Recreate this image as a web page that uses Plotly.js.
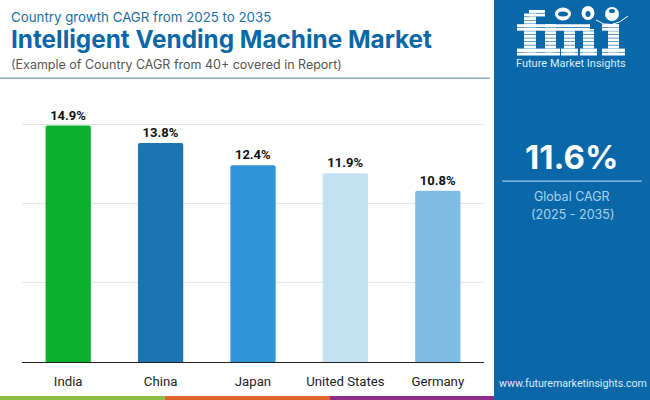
<!DOCTYPE html>
<html><head><meta charset="utf-8">
<script src="https://cdn.plot.ly/plotly-3.0.1.min.js"></script>
<style>html,body{margin:0;padding:0;background:#fff}#c{width:650px;height:400px}</style>
</head><body><div id="c"></div>
<script>
const categories = ["India","China","Japan","United States","Germany"];
const cagrValues = [14.9,13.8,12.4,11.9,10.8];
const barLabels = ["14.9%","13.8%","12.4%","11.9%","10.8%"];
const barColors = ["#0bb02f","#1c75b0","#2f96d9","#c2e1f3","#7fbce4"];
const W=650,H=400,PANEL="#0a68a8";
const px=x=>x/W, py=y=>1-y/H;
function rect(x0,y0,x1,y1,c){return {type:"rect",xref:"paper",yref:"paper",x0:px(x0),x1:px(x1),y0:py(y0),y1:py(y1),fillcolor:c,line:{width:0},layer:"below"};}
function oval(cx,cy,rx,ry,c){return {type:"circle",xref:"paper",yref:"paper",x0:px(cx-rx),x1:px(cx+rx),y0:py(cy+ry),y1:py(cy-ry),fillcolor:c,line:{width:0},layer:"below"};}
function note(x,y,t,size,color,font,anchor,bold){return {xref:"paper",yref:"paper",x:px(x),y:py(y),text:bold?"<b>"+t+"</b>":t,showarrow:false,xanchor:anchor||"left",yanchor:"middle",font:{size:size,color:color,family:font},borderpad:0,borderwidth:0};}
const shapes=[
 rect(494,0,650,400,PANEL),
 rect(0,396,165,400,"#8cbf45"),
 rect(165,396,330,400,"#e2622e"),
 rect(330,396,494,400,"#8a2e8c"),
 rect(0,77.5,490,79,"#86adc8"),
 rect(502,180.5,642,181.8,"#9cc8e8")
];
// fmi logo built from white stripes on a shared row grid
function seg(x0,x1,y0,y1){
  for(let y=10;y<56;y+=3.55){
    const a=Math.max(y,y0), b=Math.min(y+2.9,y1);
    if(b>a) shapes.push(rect(x0,a,x1,b,"#ffffff"));
  }
}
// f
seg(524,536,13,55); seg(529,545,10,17); seg(517,541,24,31); seg(517,541,48,56);
// m
seg(545,556,24,55); seg(564,575,29,55); seg(583,594,29,55); seg(541,590,24,31);
seg(541,560,48,56); seg(561,578,48,56); seg(580,597,48,56);
// i
seg(608,619,24,55); seg(602,619,24,31); seg(602,625,48,56);
// globes
shapes.push(oval(563,14,8,6.5,"#ffffff"),oval(563,14,5,2.5,PANEL));
shapes.push(oval(588,13,6.5,7,"#ffffff"),oval(588,14,2.5,3,PANEL));
shapes.push(oval(612,14,7,7,"#ffffff"),oval(612,11,3,2,PANEL));
// smile arc
shapes.push({type:"path",xref:"paper",yref:"paper",path:`M ${px(596)} ${py(20)} Q ${px(611)} ${py(31)} ${px(628)} ${py(16)}`,line:{color:"#ffffff",width:1},fillcolor:"rgba(0,0,0,0)",layer:"below"});
const annotations=[
 note(11,17,"Country growth CAGR from 2025 to 2035",13.3,"#1c6ea4","Inter"),
 note(11,39,"Intelligent Vending Machine Market",24.3,PANEL,"Inter","left",true),
 note(11,64,"(Example of Country CAGR from 40+ covered in Report)",12.5,"#555555","Inter"),
 note(571,63.5,"Future Market Insights",11,"#dcecf8","Roboto","center"),
 note(571,157,"11.6%",33,"#ffffff","Inter","center",true),
 note(572,197,"Global CAGR",12.5,"#a9d3f0","Inter","center"),
 note(572,214,"(2025 - 2035)",12.5,"#a9d3f0","Inter","center"),
 note(572.5,383,"www.futuremarketinsights.com",10.6,"#dcecf8","Roboto","center")
];
Plotly.newPlot("c",[{
  type:"bar",x:categories,y:cagrValues,text:barLabels,textposition:"outside",cliponaxis:false,
  textfont:{family:"Roboto",size:13,color:"#111111",weight:700},
  marker:{color:barColors,cornerradius:2,line:{width:0}},width:0.49,hoverinfo:"skip"
}],{
  width:W,height:H,margin:{l:0,r:0,t:0,b:0},paper_bgcolor:"#ffffff",plot_bgcolor:"#ffffff",showlegend:false,
  xaxis:{domain:[px(22),px(484)],type:"category",showgrid:false,ticks:"outside",ticklen:7,tickcolor:"rgba(0,0,0,0)",showline:true,linecolor:"#222222",linewidth:1,
    tickfont:{family:"Roboto",size:13.2,color:"#222222"},automargin:false},
  yaxis:{domain:[py(362),py(122)],range:[0,15*240/238],tickvals:[0,5,10,15],showticklabels:false,showgrid:true,gridcolor:"#e6e6e6",gridwidth:1,zeroline:false,automargin:false},
  shapes:shapes,annotations:annotations
},{displayModeBar:false,staticPlot:true});
</script></body></html>
